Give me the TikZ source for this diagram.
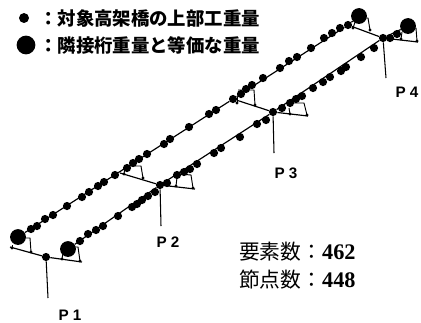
\documentclass[tikz,border=0pt]{standalone}
\usepackage{fontspec}
\newfontfamily\cjk{Noto Sans CJK JP}
\newfontfamily\digitfont{Liberation Serif}
\setmainfont{Liberation Sans}
\tikzset{
  smallmass/.style={circle,fill,inner sep=0pt,minimum size=7pt},
  bigmass/.style={circle,fill,inner sep=0pt,minimum size=13.5pt},
  beam/.style={line width=1pt},
  strut/.style={line width=0.8pt},
  pier/.style={line width=0.9pt},
  legend/.style={font=\cjk\fontsize{15.7}{15.7}\selectfont\bfseries,anchor=west,inner sep=0pt},
  count/.style={font=\cjk\fontsize{17.7}{17.7}\selectfont,anchor=west,inner sep=0pt},
  pierlabel/.style={font=\fontsize{13}{13}\selectfont\bfseries,inner sep=0pt}
}
\begin{document}
\begin{tikzpicture}[x=0.03cm,y=-0.03cm]
\useasboundingbox (0,0) rectangle (421,322);

% legend
\node[smallmass,minimum size=8.5pt] (legA) at (24,18) {};
\node[bigmass,minimum size=16pt] (legB) at (26,45) {};
\node[legend] (txtA) at (39,19) {：対象高架橋の上部工重量};
\node[legend] (txtB) at (39,45) {：隣接桁重量と等価な重量};

% crossbeams
\coordinate (b1l) at (10,247);
\node[smallmass] (p1) at (46,257) {};
\coordinate (b1r) at (82,262);
\coordinate (b2l) at (120,173);
\node[smallmass] (p2) at (160,185) {};
\coordinate (b2r) at (195,189);
\node[smallmass] (b3l) at (233,99) {};
\node[smallmass] (p3) at (273,112) {};
\coordinate (b3r) at (308,116);
\node[smallmass] (b4l) at (348,25) {};
\node[smallmass] (p4) at (383,38) {};
\coordinate (b4r) at (418,42);
\draw[beam] (b1l) -- (p1) -- (b1r);
\draw[beam] (b2l) -- (p2) -- (b2r);
\draw[beam] (b3l) -- (p3) -- (b3r);
\draw[beam] (b4l) -- (p4) -- (b4r);

% big masses at the ends
\node[bigmass] (endA) at (18,237) {};
\node[bigmass] (endB) at (68,249) {};
\node[bigmass] (endC) at (359,16) {};
\node[bigmass] (endD) at (408,26) {};

% girders
\draw[beam] (endA) -- (b3l) -- (b4l);
\draw[beam] (endB) -- (p2) -- (p3) -- (p4) -- (endD);
\draw[beam] (b4l) -- (endC);

% masses, back girder
\foreach \x/\y in {31/229,37/226,45/219,53/215,67/206,82/197,89/192,98/186,104/182,115/175,127/168,133/163,139/159,147/154,164/144,170/139,189/127,209/114,216/110,241/94,246/89,252/85,263/78,280/68,289/61,297/57,311/48,324/38,332/33,340/28}
  \node[smallmass] at (\x,\y) {};
% masses, front girder
\foreach \x/\y in {80/241,88/234,96/230,103/226,118/216,132/207,137/204,142/200,148/196,155/192,167/183,177/175,184/172,190/169,197/164,214/153,221/148,240/137,257/124,266/120,282/108,290/103,296/99,302/96,313/88,323/82,330/77,341/71,346/67,361/57,374/48,390/38,397/34}
  \node[smallmass] at (\x,\y) {};

% bearings
\foreach \ax/\ay/\bx/\by/\cx/\cy/\dx/\dy/\ex/\ey in {24/238/30/238/31/252/12/245/12/248,72/247/78/247/80/261/63/253/62/259,127/166/141/166/143/178/125/168/124/174,180/174/191/175/193/188/177/177/176/186,238/90/254/90/255/105/237/97/237/103,288/103/304/103/307/115/289/108/290/114,365/18/368/18/370/30/355/22/353/28,412/28/416/28/417/41/402/32/401/39}{
  \draw[strut] (\ax,\ay) -- (\bx,\by) -- (\cx,\cy);
  \draw[strut] (\dx,\dy) -- (\ex,\ey);
  \fill (\cx,\cy) circle (1.6);
  \fill (\ex,\ey) circle (1.6);
}

% piers
\coordinate (p1end) at (48,298);
\coordinate (p2end) at (161,226);
\coordinate (p3end) at (274,153);
\coordinate (p4end) at (386,78);
\draw[pier] (p1) -- (p1end);
\draw[pier] (p2) -- (p2end);
\draw[pier] (p3) -- (p3end);
\draw[pier] (p4) -- (p4end);

% labels
\node[pierlabel] (lab1) at (70,315) {P 1};
\node[pierlabel] (lab2) at (168,242) {P 2};
\node[pierlabel] (lab3) at (286,173) {P 3};
\node[pierlabel] (lab4) at (407,92) {P 4};
\node[count] (numA) at (239,252) {要素数：{\digitfont\bfseries\fontsize{19}{19}\selectfont 462}};
\node[count] (numB) at (239,280) {節点数：{\digitfont\bfseries\fontsize{19}{19}\selectfont 448}};
\end{tikzpicture}
\end{document}
